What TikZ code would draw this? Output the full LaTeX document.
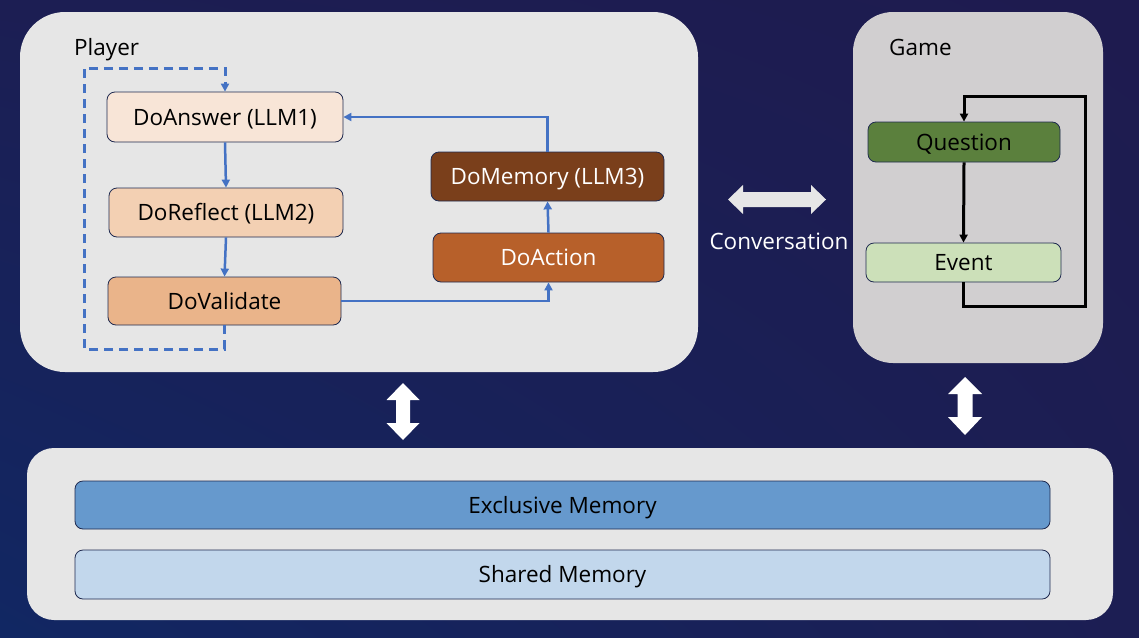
\documentclass[tikz,border=0pt]{standalone}
\usepackage{fontspec}
\setmainfont{Open Sans}
\usetikzlibrary{arrows.meta,shadings}
\definecolor{bgA}{HTML}{1E1B4F}
\definecolor{bgB}{HTML}{112763}
\definecolor{bgC}{HTML}{1C1E53}
\definecolor{panel}{HTML}{E6E6E6}
\definecolor{gamepanel}{HTML}{D1CFD0}
\definecolor{edge}{HTML}{1F2A50}
\definecolor{flow}{HTML}{4472C4}
\definecolor{cAns}{HTML}{F8E5D7}
\definecolor{cRef}{HTML}{F3D0B3}
\definecolor{cVal}{HTML}{EAB48A}
\definecolor{cMem}{HTML}{7A3F1B}
\definecolor{cAct}{HTML}{B7602A}
\definecolor{cQue}{HTML}{5B803D}
\definecolor{cEve}{HTML}{CCE0B9}
\definecolor{cExc}{HTML}{6699CD}
\definecolor{cSha}{HTML}{C2D7EC}
\tikzset{
  txt/.style={font=\fontsize{22.5}{26}\selectfont, text height=16pt, text depth=0pt},
  box/.style={txt, draw=edge, line width=0.8pt, rounded corners=8pt, inner sep=0pt, text=black},
  flowarrow/.style={flow, line width=2.5pt, -{Triangle[length=8pt,width=8pt]}},
  looparrow/.style={black, line width=3pt, -{Triangle[length=8pt,width=8pt]}},
  dasharrow/.style={flow, line width=3pt, dash pattern=on 9pt off 6pt, -{Triangle[length=8pt,width=8pt]}},
  bigarrow/.style={fill=white},
}
\begin{document}
\begin{tikzpicture}[x=1pt,y=-1pt]
\useasboundingbox (0,0) rectangle (1139,637);
\shade[upper left=bgC, upper right=bgA, lower left=bgB, lower right=bgC] (0,0) rectangle (1139,637);

% panels
\node[fill=panel, rounded corners=45pt, minimum width=678pt, minimum height=360pt, inner sep=0pt] (player) at (359,192) {};
\node[fill=gamepanel, rounded corners=40pt, minimum width=250pt, minimum height=351pt, inner sep=0pt] (game) at (978,187.5) {};
\node[fill=panel, rounded corners=27pt, minimum width=1086pt, minimum height=172pt, inner sep=0pt] (store) at (570,534) {};

\node[txt, anchor=west, inner sep=0pt] (plab) at (74,47) {Player};
\node[txt, anchor=west, inner sep=0pt] (glab) at (889,47) {Game};

% player boxes
\node[box, fill=cAns, minimum width=236pt, minimum height=50pt] (ans) at (225,117) {DoAnswer (LLM1)};
\node[box, fill=cRef, minimum width=234pt, minimum height=49pt] (ref) at (226,212.5) {DoReflect (LLM2)};
\node[box, fill=cVal, minimum width=233pt, minimum height=48pt] (val) at (224.5,301) {DoValidate};
\node[box, fill=cMem, text=white, minimum width=233pt, minimum height=49pt] (mem) at (547.5,176.5) {DoMemory (LLM3)};
\node[box, fill=cAct, text=white, minimum width=231pt, minimum height=49pt] (act) at (548.5,257.5) {DoAction};

% game boxes
\node[box, fill=cQue, minimum width=192pt, minimum height=40pt] (que) at (964,142) {Question};
\node[box, fill=cEve, minimum width=195pt, minimum height=39pt] (eve) at (963.5,262.5) {Event};

% memory bars
\node[box, fill=cExc, minimum width=975pt, minimum height=48pt] (exc) at (562.5,505) {Exclusive Memory};
\node[box, fill=cSha, minimum width=975pt, minimum height=49pt] (sha) at (562.5,574.5) {Shared Memory};

% player flow
\draw[flowarrow] (ans.south) -- (ref.north);
\draw[flowarrow] (ref.south) -- (val.north);
\draw[flowarrow] (val.east) -| (act.south);
\draw[flowarrow] (act.north) -- (mem.south);
\draw[flowarrow] (mem.north) |- (ans.east);
\coordinate (d1) at (84,349);
\coordinate (d2) at (84,68);
\draw[dasharrow] (val.south) |- (d1) -- (d2) -| (ans.north);

% game loop
\draw[looparrow] (que.south) -- (eve.north);
\coordinate (g1) at (1085,306);
\coordinate (g2) at (1085,96);
\draw[looparrow] (eve.south) |- (g1) -- (g2) -| (que.north);

% conversation arrow
\fill[panel] (728,199.5) -- (743,185) -- (743,192) -- (811,192) -- (811,185) -- (826,199.5) -- (811,214) -- (811,207) -- (743,207) -- (743,214) -- cycle;
\node[txt, text=white, inner sep=0pt] (conv) at (779,241) {Conversation};

% vertical double arrows
\fill[bigarrow] (403,383) -- (419.5,400) -- (410,400) -- (410,423) -- (419.5,423) -- (403,440) -- (386.5,423) -- (396,423) -- (396,400) -- (386.5,400) -- cycle;
\fill[bigarrow] (965,377) -- (982,394) -- (972.5,394) -- (972.5,417) -- (982,417) -- (965,435) -- (948,417) -- (957.5,417) -- (957.5,394) -- (948,394) -- cycle;
\end{tikzpicture}
\end{document}
